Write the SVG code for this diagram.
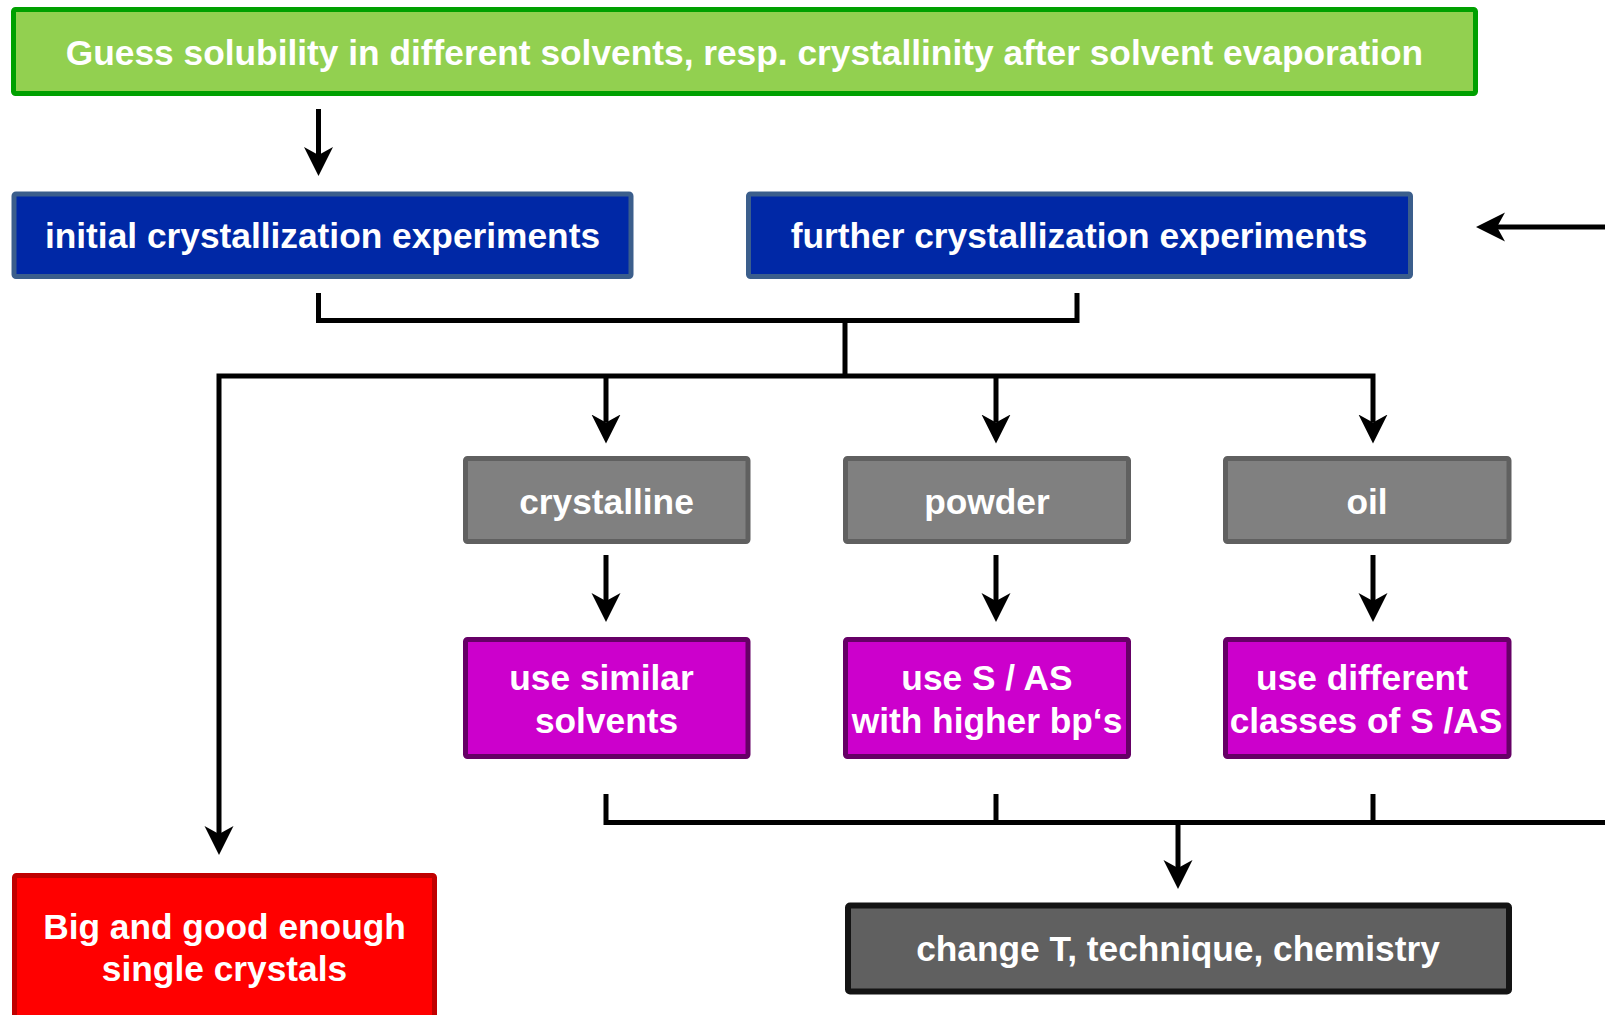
<svg xmlns="http://www.w3.org/2000/svg" width="1605" height="1015" viewBox="0 0 1605 1015">
<style>
.t{font-family:"Liberation Sans",Arial,sans-serif;font-weight:bold;font-size:35.3px;fill:#fff;text-anchor:middle}
.box{stroke-width:5}
.green{fill:#92D050;stroke:#00A000}
.blue{fill:#0028A6;stroke:#3B5E8C}
.gray{fill:#808080;stroke:#606060}
.purple{fill:#CC00CC;stroke:#660066}
.red{fill:#FF0000;stroke:#C00000}
.dark{fill:#606060;stroke:#141414;stroke-width:6}
.c{fill:none;stroke:#000;stroke-width:5}
.a{marker-end:url(#arr)}
</style>
<defs>
<marker id="arr" viewBox="0 0 30 30" refX="8" refY="15" markerWidth="30" markerHeight="30" markerUnits="userSpaceOnUse" orient="auto">
<path d="M29,15 L0,0.5 L8,15 L0,29.5 Z" fill="#000"/>
</marker>
</defs>
<rect width="1605" height="1015" fill="#fff"/>
<g id="connectors">
<path class="c a" d="M318.5,109 V155"/>
<path class="c" d="M318.5,293 V320.5 H1077 V293"/>
<path class="c" d="M845,320 V376"/>
<path class="c a" d="M845,376 H219 V834"/>
<path class="c a" d="M845,376 H1373 V422.5"/>
<path class="c a" d="M606,376 V422.5"/>
<path class="c a" d="M996,376 V422.5"/>
<path class="c a" d="M606,555 V601"/>
<path class="c a" d="M996,555 V601"/>
<path class="c a" d="M1373,555 V601"/>
<path class="c" d="M606,794 V822.5 H1610"/>
<path class="c" d="M996,794 V822.5"/>
<path class="c" d="M1373,794 V822.5"/>
<path class="c a" d="M1178,822.5 V868"/>
<path class="c a" d="M1610,227 H1497"/>
</g>
<g id="n-guess">
<rect class="box green" x="13.5" y="9.5" width="1462" height="84" rx="2"/>
<text class="t" x="744.5" y="64.5">Guess solubility in different solvents, resp. crystallinity after solvent evaporation</text>
</g>
<g id="n-initial">
<rect class="box blue" x="14" y="194" width="617" height="82.5" rx="2"/>
<text class="t" x="322.5" y="248">initial crystallization experiments</text>
</g>
<g id="n-further">
<rect class="box blue" x="748.5" y="194" width="662" height="82.5" rx="2"/>
<text class="t" x="1079" y="248">further crystallization experiments</text>
</g>
<g id="n-crystalline">
<rect class="box gray" x="465.5" y="458.5" width="282.5" height="83" rx="2"/>
<text class="t" x="606.5" y="513.5">crystalline</text>
</g>
<g id="n-powder">
<rect class="box gray" x="845.5" y="458.5" width="283" height="83" rx="2"/>
<text class="t" x="987" y="513.5">powder</text>
</g>
<g id="n-oil">
<rect class="box gray" x="1225.5" y="458.5" width="283.5" height="83" rx="2"/>
<text class="t" x="1367" y="513.5">oil</text>
</g>
<g id="n-similar">
<rect class="box purple" x="465.5" y="639.5" width="282.5" height="117" rx="2"/>
<text class="t" x="601.5" y="690">use similar</text>
<text class="t" x="606.5" y="732.5">solvents</text>
</g>
<g id="n-higher">
<rect class="box purple" x="845.5" y="639.5" width="283" height="117" rx="2"/>
<text class="t" x="987" y="690">use S / AS</text>
<text class="t" x="987" y="732.5">with higher bp‘s</text>
</g>
<g id="n-different">
<rect class="box purple" x="1225.5" y="639.5" width="283.5" height="117" rx="2"/>
<text class="t" x="1362" y="690">use different</text>
<text class="t" x="1366" y="732.5">classes of S /AS</text>
</g>
<g id="n-big">
<rect class="box red" x="14.5" y="875.5" width="420" height="200" rx="2"/>
<text class="t" x="224.5" y="939">Big and good enough</text>
<text class="t" x="224.5" y="981">single crystals</text>
</g>
<g id="n-change">
<rect class="box dark" x="848" y="905.5" width="661" height="86" rx="2"/>
<text class="t" x="1178" y="961">change T, technique, chemistry</text>
</g>
</svg>
